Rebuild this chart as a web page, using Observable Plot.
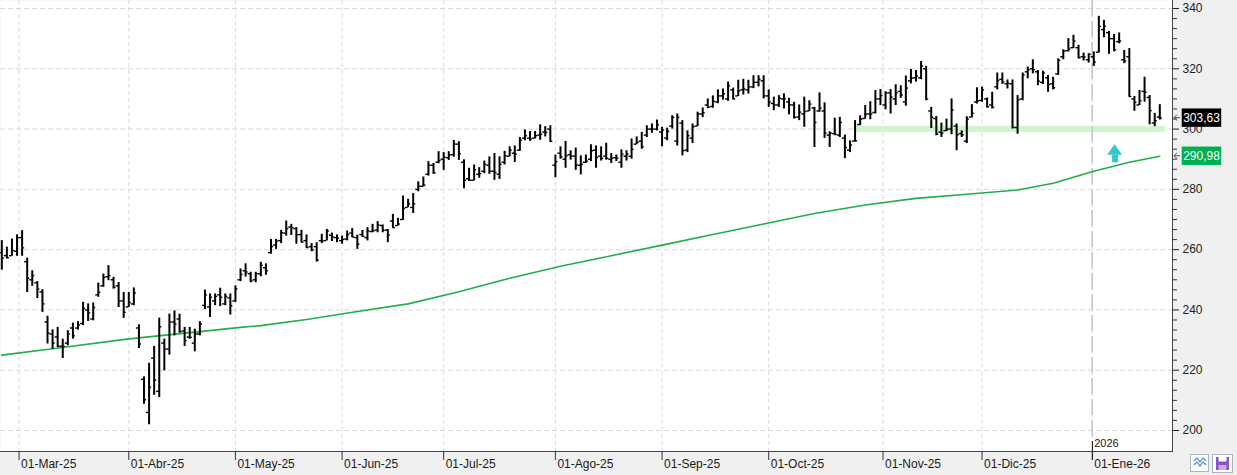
<!DOCTYPE html>
<html><head><meta charset="utf-8">
<script src="https://cdn.jsdelivr.net/npm/d3@7"></script>
<script src="https://cdn.jsdelivr.net/npm/@observablehq/plot@0.6"></script>
<style>
html,body{margin:0;padding:0;background:#fff;}
#chart{width:1237px;height:475px;overflow:hidden;}
</style></head><body><div id="chart"></div>
<script>
// ---- Daily OHLC bars (trading-day index 0..228) ----
const opens = [259,258,258,259.5,264,256,250,249,246,236,232,231,228,229,234,234,235.5,240,237,245,248,251,250,248,243,241,242,234,217,206,224,213,229,227,236,237,233,231,229,232,241.5,241,243,245,242,244,243,250,253,252,250,252,254,259,261.5,263,265.5,267.5,267,265,263,261,261,263,263,264.8,264,263,263.5,265.5,264,265,264,266,266.5,268,266.5,269.5,268,270,274,274,280,281,285,288,289,290,290.5,291.5,295,289,283.5,283,285,286,288,286,285,289,291,292,293,297,297,297,298,299,300,288,292,290,291.5,291,288,289,290,293,291,291,290,290.5,289,291,291,295,296,298,300,300,299,297,301,296,302,293,297,301,305,308,307.5,309,311,310,313,311,313,313,314,315.5,316,311,308.5,308,310,309,308,304,305,306,307,306,306,298,298.5,298,297,293,296,301.5,303.5,305,305.5,310,308,312,310,312.5,309,316,317,317,320,306,303.5,299,299.5,300,301,298.5,296,304,309,309.5,310,308,314,316.5,315,315,300.5,310,319,320,319,315.5,317,315,318.3,324,326,327,327,324,323,324,325.5,333,332,330,329,323,324,310,308,312.5,310.5,302,304];
const highs = [263,260.8,263.5,264.9,266.3,257.2,253,249.4,246.7,237.9,233.4,234.2,230.3,233.1,235.6,236.1,242.5,242,242.3,248.9,251.9,254.7,250.8,249.1,245.8,245.8,247.3,235.1,217.8,222.3,227.9,237.3,230.3,238.6,239.7,238.6,234.2,234.2,233.6,236.1,246.6,245.3,245.3,247.2,245.3,245.3,248,253.6,255.3,252.5,252.5,255.8,255.3,263.4,263.4,266.4,269.5,268.4,267.3,266.4,264.9,262,262.3,265.1,266.7,265.5,264.9,264.5,266.2,267,264.8,266.4,267.3,268.4,269.3,268.2,266.7,271.7,270.4,277.8,276.7,278.6,282.5,284.1,289.2,288.6,292.5,292.2,292.5,296.2,295.8,289.8,287,288.1,287.2,289.4,290.8,291.9,290.8,292.6,294.1,294.4,297.2,299.7,299.2,299.2,301.4,300.8,301.1,291.4,294.1,295.9,292.8,293.7,291.1,291.4,294.8,294.4,294.1,295.3,291.9,291.4,293.1,292.8,296.7,297.4,298.9,301.1,301.7,303,300.6,300.3,304.4,305,302.8,299.4,301.7,305.6,307,310,311,313,313.3,315.6,313.6,316.2,316.5,316.2,317.7,317.7,317.7,313,310.6,311.1,311.7,310.2,308.9,308,310.6,309.4,307.2,312,308.7,299.1,303.6,303.9,298,296.1,302.8,304.4,307.8,309.1,312.8,313.1,312.4,313.1,314.7,314.4,317.6,319.8,319.4,322.4,320.8,307.2,304.2,302,303.3,310,301.7,299.4,304.1,308.1,313.7,313.9,310.3,312.2,318.6,318.6,316.3,316.3,311.1,318.6,320.6,323,319.4,319.2,317.8,317.2,323.3,326.3,330,331.1,327.8,325.2,325,325.6,337.4,336.1,332.4,331.4,331.9,326.1,326.7,310.8,312.8,317.2,311.1,305.2,308.1];
const lows = [253.2,257,257.8,257.8,257.8,245.8,247.8,243.8,239.2,228.7,227,227.6,223.9,228.1,230.3,233.3,234.8,236.2,236.4,244.2,247.5,249.7,246.9,240.8,237.2,240.8,241.4,227.2,208.7,201.9,211.7,210.9,219.8,225,231.4,232.3,227.9,230.3,226.1,231.4,240.1,237.5,241.4,241.1,241.4,238.3,242.5,249.4,250.9,249,249,251,251.5,258.5,260.1,262,264.5,264.7,261.8,262.3,260.4,259.3,255.9,262,262.9,262.7,262.3,261.8,262.9,264,260.1,264,262.9,265.6,265.6,265.6,262.3,267.1,267.8,269.7,273.9,272,279.2,280.8,284.4,285,288.5,286.3,289.6,290.7,289.6,280.2,282.6,282.8,283.7,285.2,285,283,283.3,288.1,290.8,288.9,292.6,296.1,295.9,296.7,296.3,297.4,295.6,283.9,290,287,289.7,286.3,284.8,288.6,289.2,287,289.4,289.7,288.6,289.2,287,289.4,290,294.8,293.3,297.2,298.6,299.4,294.1,296.1,300,294.4,291.1,292.2,295.2,300.8,303.8,306.9,306.9,308.4,309.6,309.2,309.7,310.8,311.3,311.6,313.4,314,310,307.2,306.1,307.2,306.7,304.7,303.3,302.8,300.6,305.8,293.9,305.6,296.9,293.9,297.8,297.2,290.2,292.2,295.8,301.1,303.3,303.1,305,307.8,306.4,305,307.8,310.2,307.6,315,315.6,316.4,309.4,300.2,297.8,297.2,299.2,298.1,292.8,297.2,295.2,303.7,308.3,308.9,307,306.7,313,314.8,313.3,300,298.3,309.4,316.7,318.3,314.4,314.8,312.2,313,317.8,323,325.6,326.7,323.3,322.6,321.9,320.8,325.2,330.3,324.8,325.6,328.3,321.7,310.6,305.9,307.8,308.9,301.4,300.8,303];
const closes = [257.2,257.3,259.7,264,260.6,250.5,251.4,246.9,242,232.3,229,227.9,227.9,232,231.4,235,240.5,239,240.8,245.8,250.8,251.4,247.5,243,239.2,242.5,245.6,228.7,210.2,214.3,216.7,234.4,227,235.9,235.3,232.8,229.8,230.9,232,235.3,245,244.2,244.5,244.2,244.5,241.4,247,251.8,252.6,249.6,252,254.8,253,261,262.8,265.6,267,267.3,264.9,262.5,260.7,259.9,256.5,262.9,266.2,264.2,263.8,263.4,265,264.2,261.8,264.4,266.2,266.2,268.2,266.4,264.9,267.3,268.5,273.7,275.2,275.2,281.1,281.4,288,285.5,289.6,290.7,291.4,295,291.8,283,283,286.5,285.2,288.3,286.1,285.6,288.3,291.1,293,291.7,296.3,297.8,296.7,297.8,298.3,298.9,295.9,289.2,290.8,291.1,291.1,288.1,288.3,289.4,292.8,290.6,290.3,290.3,290.3,290.3,291.7,291.7,293.3,295.6,294.1,300,300,301.4,299.7,299.2,303.9,303.9,292.8,297.8,300.8,305,305.4,307.2,309.2,311,311.7,314.3,310,312.7,313.3,314,315.5,316.5,311,309,308,310.2,310,308,303.9,305.6,305.8,308.3,302.2,306.9,298.7,298.7,298.3,302.2,293.9,294.7,296.1,303.3,305,305,310,311.1,312,310.6,312,311.3,313.6,316.9,317.6,320.9,310,303.9,298.3,298.7,300,306.3,298.1,298.1,303.3,305.2,309.4,313,307.4,307.2,316.1,315.6,315.2,300.6,309.7,318,319.7,319.7,315.9,318.6,314.8,313.7,322.8,325.9,326.5,329.2,323.7,323.9,324.8,322.2,334.1,334.1,330,326.3,329.2,322.6,310.8,308.9,309.4,312.2,306.1,302.8,303.63];

// ---- 200-session moving average, read at sample sessions ----
const maIdx  = [0, 10, 25, 39, 47, 51, 60, 70, 80, 90, 100, 110, 120, 130, 140, 150, 160, 170, 180, 190, 200, 207, 215, 222, 228];
const maVals = [225.0, 227.1, 230.4, 232.8, 234.2, 234.8, 236.8, 239.5, 242.0, 246.0, 250.5, 254.5, 258.0, 261.5, 265.0, 268.5, 272.0, 274.8, 277.0, 278.4, 279.8, 282.0, 286.0, 289.0, 290.98];

// ---- axes ----
const monthTickIdx = [3.4, 25, 46, 67, 87, 109, 130, 151, 173.5, 193, 214.7];
const monthLabels  = ["01-Mar-25","01-Abr-25","01-May-25","01-Jun-25","01-Jul-25","01-Ago-25","01-Sep-25","01-Oct-25","01-Nov-25","01-Dic-25","01-Ene-26"];
const yTickValues  = [200, 220, 240, 260, 280, 300, 320, 340];
const yMinorStep   = 20 / 6;

// ---- annotations ----
const lastPrice = 303.63, lastPriceLabel = "303,63";
const lastMA = 290.98, lastMALabel = "290,98";
const supportZone = {x1: 168.1, x2: 229.1, y1: 298.9, y2: 300.9};
const yearIdx = 214.7, yearLabel = "2026";
const upArrow = {i: 219.2, tip: 294.8, base: 291.3, tail: 288.8, halfWidth: 1.48};

const bars = opens.map((o, i) => ({i, o, h: highs[i], l: lows[i], c: closes[i]}));
const ma = maIdx.map((x, k) => ({i: x, v: maVals[k]}));
const months = monthTickIdx.map((x, k) => ({i: x, label: monthLabels[k]}));
const minorTicks = d3.range(200, 340.01, yMinorStep).filter(v => !yTickValues.some(t => Math.abs(t - v) < 0.01));
const arrowHead = [
  {x: upArrow.i - upArrow.halfWidth, y: upArrow.base},
  {x: upArrow.i, y: upArrow.tip},
  {x: upArrow.i + upArrow.halfWidth, y: upArrow.base}
];

const W = 1237, H = 475, mR = 65, mB = 24;
const FONT = "'Liberation Sans', Arial, sans-serif";

const plot = Plot.plot({
  width: W, height: H,
  marginLeft: 0, marginRight: mR, marginTop: 0, marginBottom: mB,
  x: {domain: [0, 228], range: [1.3, 1159.3], axis: null},
  y: {domain: [200, 340], range: [430, 8], axis: null},
  style: {background: "#f0f0f0", fontFamily: FONT, fontSize: "12px", overflow: "visible"},
  marks: [
    Plot.frame({fill: "white", stroke: null}),
    Plot.ruleY(yTickValues, {stroke: "#d9d9d9", strokeDasharray: "5,3"}),
    Plot.ruleX(monthTickIdx, {stroke: "#d9d9d9", strokeDasharray: "4,3"}),
    Plot.rect([supportZone], {x1: "x1", x2: "x2", y1: "y1", y2: "y2", fill: "#cdf6cd"}),
    Plot.ruleX([yearIdx], {stroke: "#c6c6c6", strokeWidth: 1.6, strokeDasharray: "16,5"}),
    Plot.line(ma, {x: "i", y: "v", stroke: "#1faf4b", strokeWidth: 1.6}),
    Plot.ruleX(bars, {x: "i", y1: "l", y2: "h", stroke: "#000", strokeWidth: 2}),
    Plot.ruleY(bars, {y: "o", x1: d => d.i - 0.5, x2: "i", stroke: "#000", strokeWidth: 1.4}),
    Plot.ruleY(bars, {y: "c", x1: "i", x2: d => d.i + 0.5, stroke: "#000", strokeWidth: 1.4}),
    Plot.areaY(arrowHead, {x: "x", y1: upArrow.base, y2: "y", fill: "#33c9c9", curve: "linear"}),
    Plot.ruleX([upArrow], {x: "i", y1: "tail", y2: "base", stroke: "#33c9c9", strokeWidth: 6}),
    Plot.axisY(yTickValues, {anchor: "right", tickSize: 6, tickPadding: 4, color: "#222", tickFormat: d => String(d), label: null, fontSize: 12}),
    Plot.axisY(minorTicks, {anchor: "right", tickSize: 4, color: "#333", tickFormat: () => "", label: null}),
    Plot.axisX(monthTickIdx, {anchor: "bottom", tickSize: 9, color: "#333", tickFormat: () => "", label: null}),
    Plot.text(months, {x: "i", frameAnchor: "bottom", dy: 16, dx: 2, text: "label", textAnchor: "start", lineAnchor: "bottom", fill: "#1a1a1a", fontSize: 12}),
    Plot.text([yearLabel], {x: yearIdx, frameAnchor: "bottom", dy: -5, dx: 2, text: d => d, textAnchor: "start", lineAnchor: "bottom", fill: "#1a1a1a", fontSize: 11})
  ]
});

document.getElementById("chart").appendChild(plot);

// ---- chrome: axis lines, price tags, year tick, icons ----
const svg = d3.select(plot);
const ys = plot.scale("y"), xs = plot.scale("x");
const fx = W - mR, fy = H - mB;
const g = svg.append("g");
g.append("line").attr("x1", fx + 0.5).attr("x2", fx + 0.5).attr("y1", 0).attr("y2", fy).attr("stroke", "#444");
g.append("line").attr("x1", 0).attr("x2", fx + 1).attr("y1", fy + 0.5).attr("y2", fy + 0.5).attr("stroke", "#444");
const yx = Math.round(xs.apply(yearIdx)) + 0.5;
g.append("line").attr("x1", yx).attr("x2", yx).attr("y1", fy - 10).attr("y2", fy + 9).attr("stroke", "#222");

function tag(value, label, fill) {
  const y = ys.apply(value);
  g.append("path").attr("d", `M${fx + 8},${y} H${fx + 2} M${fx + 5},${y - 3} L${fx + 2},${y} L${fx + 5},${y + 3}`)
    .attr("stroke", "#555").attr("fill", "none");
  g.append("rect").attr("x", fx + 9.7).attr("y", y - 9.2).attr("width", 39.5).attr("height", 18.4).attr("fill", fill);
  g.append("text").attr("x", fx + 29.5).attr("y", y).attr("dy", "0.35em").attr("text-anchor", "middle")
    .attr("fill", "white").attr("font-size", 12).attr("font-family", FONT).text(label);
}
tag(lastPrice, lastPriceLabel, "#000");
tag(lastMA, lastMALabel, "#00b050");

// small toolbar icons at bottom right
const ic = g.append("g");
ic.append("rect").attr("x", 1190.5).attr("y", 454.5).attr("width", 18).attr("height", 17).attr("fill", "white").attr("stroke", "#a9b4bd");
ic.append("path").attr("d", "M1194,461 L1197,458 L1200,462 L1203,458 L1206,461").attr("stroke", "#4a8fd8").attr("fill", "none").attr("stroke-width", 1.2);
ic.append("path").attr("d", "M1194,465 L1197,462 L1200,466 L1203,462 L1206,465").attr("stroke", "#4a8fd8").attr("fill", "none").attr("stroke-width", 1.2);
ic.append("rect").attr("x", 1212.5).attr("y", 454.5).attr("width", 20).attr("height", 18).attr("fill", "white").attr("stroke", "#a9b4bd");
ic.append("rect").attr("x", 1216).attr("y", 457).attr("width", 13).attr("height", 13).attr("fill", "#8e4fc9");
ic.append("rect").attr("x", 1218.5).attr("y", 457).attr("width", 8).attr("height", 4.5).attr("fill", "white");
ic.append("rect").attr("x", 1218.5).attr("y", 465).attr("width", 8).attr("height", 5).attr("fill", "#c9a7ea");
</script>
</body></html>
